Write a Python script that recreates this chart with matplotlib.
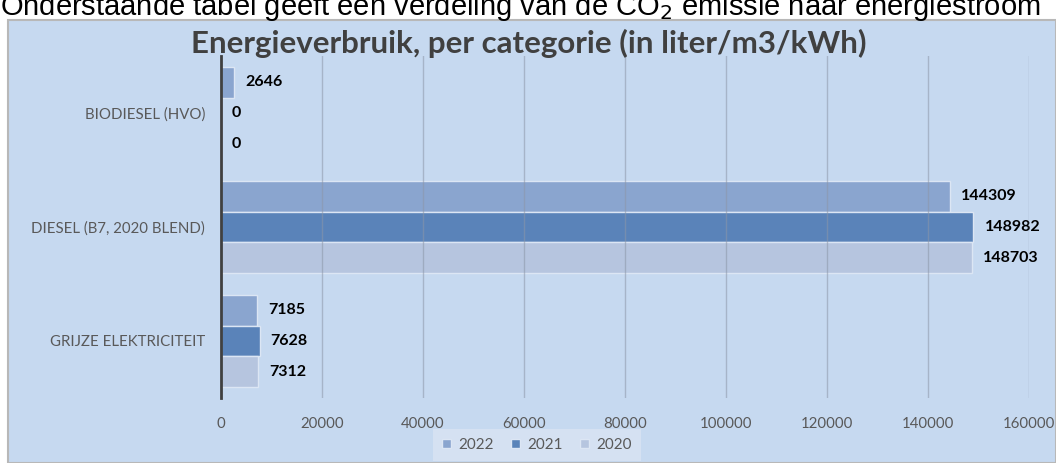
import numpy as np
import matplotlib
matplotlib.use("Agg")
import matplotlib.pyplot as plt
from matplotlib.patches import Rectangle

categories = ["BIODIESEL (HVO)", "DIESEL (B7, 2020 BLEND)", "GRIJZE ELEKTRICITEIT"]
years = ["2022", "2021", "2020"]
values_2022 = [2646, 144309, 7185]
values_2021 = [0, 148982, 7628]
values_2020 = [0, 148703, 7312]
x_ticks = [0, 20000, 40000, 60000, 80000, 100000, 120000, 140000, 160000]

colors = ["#8AA5CF", "#5A83B9", "#B6C5DF"]
bg = "#C6D9F0"
W, H = 1056, 463

fig = plt.figure(figsize=(W / 100, H / 100), dpi=100)
fig.patch.set_facecolor("white")

# chart frame (screenshot of an office chart)
fig.patches.append(Rectangle((8 / W, 0), 1 - 8 / W, 1 - 20 / H, transform=fig.transFigure,
                             facecolor=bg, edgecolor="#B8B8B8", linewidth=1.5, zorder=-5))

# document text above the chart, partly cut off
fig.text(0 / W, 1 - 15 / H, "Onderstaande tabel geeft een verdeling van de CO$_2$ emissie naar energiestroom",
         fontsize=21, family="Liberation Sans", color="black", va="baseline", ha="left")

fig.text(529 / W, 1 - 43 / H, "Energieverbruik, per categorie (in liter/m3/kWh)",
         fontsize=22.5, fontweight="bold", family="Lato", color="#404040", ha="center", va="center")

ax = fig.add_axes([221 / W, 1 - 398 / H, 808 / W, 342 / H])
ax.set_facecolor("none")

y = np.arange(len(categories))
h = 0.27
series = [values_2022, values_2021, values_2020]
offsets = [-h, 0, h]
for vals, off, c, lab in zip(series, offsets, colors, years):
    bars = ax.barh(y + off, vals, height=h, color=c, edgecolor="#DCE6F4", linewidth=1, label=lab, zorder=2)
    for b, v in zip(bars, vals):
        ax.annotate(str(v), (v, b.get_y() + b.get_height() / 2), xytext=(8, 0), textcoords="offset points",
                    ha="left", va="center", fontsize=11.5, fontweight="bold", family="Lato", color="black")

ax.set_xlim(0, 160000)
ax.set_ylim(2.5, -0.5)
ax.set_xticks(x_ticks)
ax.set_xticklabels([str(t) for t in x_ticks])
ax.set_yticks(y)
ax.set_yticklabels(categories)
ax.tick_params(axis="x", length=0, pad=14, labelsize=10.8, labelcolor="#595959")
ax.tick_params(axis="y", length=0, pad=11.5, labelsize=10.8, labelcolor="#595959")
for lab in ax.get_xticklabels() + ax.get_yticklabels():
    lab.set_family("Lato")

for t in x_ticks[1:]:
    ax.axvline(t, color="#8C96A8", linewidth=1, alpha=0.55, zorder=3)

for s in ["top", "right", "bottom"]:
    ax.spines[s].set_visible(False)
ax.spines["left"].set_color("#404040")
ax.spines["left"].set_linewidth(2)
ax.spines["left"].set_zorder(4)

leg = ax.legend(loc="center", bbox_to_anchor=(537 / W, 1 - 445 / H), bbox_transform=fig.transFigure,
                ncol=3, frameon=True, fancybox=False, handlelength=0.6, handleheight=0.6,
                handletextpad=0.5, columnspacing=1.1, borderpad=0.6, prop={"family": "Lato", "size": 11})
leg.get_frame().set_facecolor("#D9E4F3")
leg.get_frame().set_edgecolor("none")
for t in leg.get_texts():
    t.set_color("#595959")

fig.savefig("out.png", dpi=100, facecolor=fig.get_facecolor())
